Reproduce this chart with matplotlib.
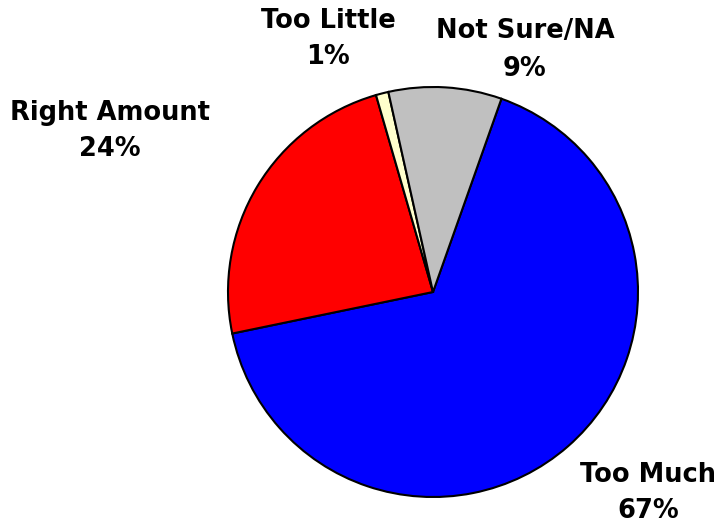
import matplotlib.pyplot as plt

labels = ['Too Much', 'Right Amount', 'Too Little', 'Not Sure/NA']
values = [67, 24, 1, 9]
colors = ['#0000FF', '#FF0000', '#FFFFCC', '#C0C0C0']
# label block centres in pixel coords (x, y from top)
label_pos = [(648, 493), (110, 131), (328, 39), (525, 50)]

W, H = 726, 529
fig = plt.figure(figsize=(W / 100, H / 100), dpi=100)
ax = fig.add_axes([0, 0, 1, 1])

ax.pie(values, colors=colors, startangle=70.5, counterclock=False,
       center=(433, H - 292), radius=205,
       wedgeprops=dict(edgecolor='black', linewidth=1.5))

for lab, v, (x, y) in zip(labels, values, label_pos):
    ax.text(x, H - y, f"{lab}\n{v}%", ha='center', va='center',
            fontsize=18.5, fontweight='bold', family='DejaVu Sans',
            linespacing=1.55)

ax.set_xlim(0, W)
ax.set_ylim(0, H)
ax.set_aspect('equal')
ax.axis('off')

fig.savefig('out.png', dpi=100)
